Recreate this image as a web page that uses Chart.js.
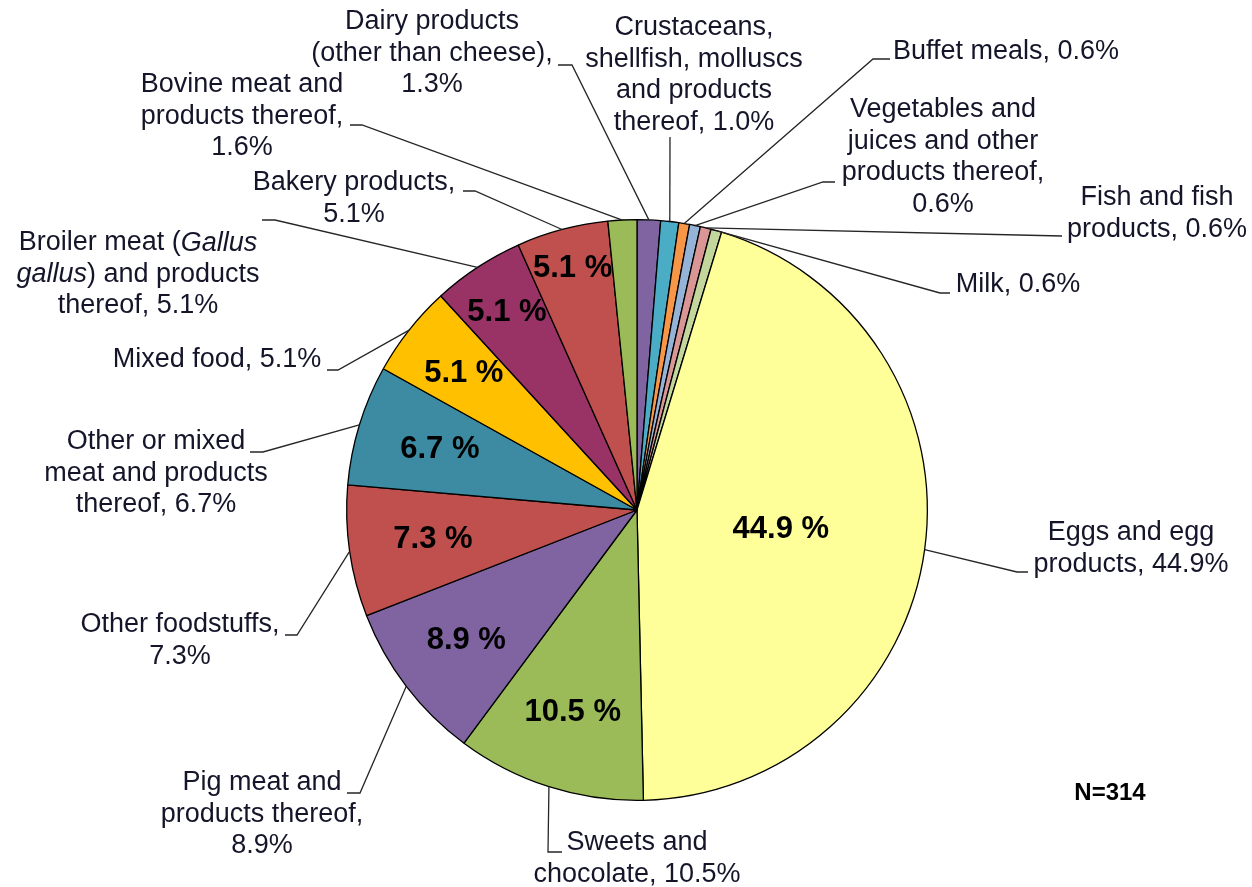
<!DOCTYPE html>
<html>
<head>
<meta charset="utf-8">
<title>Foodborne outbreaks by food vehicle</title>
<script src="https://cdn.jsdelivr.net/npm/chart.js@4.4.1/dist/chart.umd.min.js"></script>
<style>
  html,body{margin:0;padding:0;background:#fff;}
  #wrap{width:1252px;height:887px;}
</style>
</head>
<body>
<div id="wrap"><canvas id="pie" width="1252" height="887"></canvas></div>
<script>
// food vehicles, clockwise from 12 o'clock
const categories=[
    "Dairy products (other than cheese)",
    "Crustaceans, shellfish, molluscs and products thereof",
    "Buffet meals",
    "Vegetables and juices and other products thereof",
    "Fish and fish products",
    "Milk",
    "Eggs and egg products",
    "Sweets and chocolate",
    "Pig meat and products thereof",
    "Other foodstuffs",
    "Other or mixed meat and products thereof",
    "Mixed food",
    "Broiler meat (Gallus gallus) and products thereof",
    "Bakery products",
    "Bovine meat and products thereof"
];
const shares=[1.3,1.0,0.6,0.6,0.6,0.6,44.9,10.5,8.9,7.3,6.7,5.1,5.1,5.1,1.6];
const sampleSize=314;

const sliceColours=["#8064A2","#4BACC6","#F79646","#95B3D7","#D99694","#C3D69B","#FFFF99",
    "#9BBB59","#8064A2","#C0504D","#3C8BA2","#FFC000","#993366","#C0504D","#9BBB59"];

// outer label wording ({v} = share, *..* = italic), anchor of the first line, leader points
const outerLabels=[
    {text:"Dairy products\n(other than cheese),\n{v}%",x:432,y:22,leader:[[558,65],[572,65]]},
    {text:"Crustaceans,\nshellfish, molluscs\nand products\nthereof, {v}%",x:694,y:28,leader:[[670,137]]},
    {text:"Buffet meals, {v}%",x:893,y:52,align:"left",leader:[[890,59],[873,59]]},
    {text:"Vegetables and\njuices and other\nproducts thereof,\n{v}%",x:943,y:110,leader:[[835,182],[823,182]]},
    {text:"Fish and fish\nproducts, {v}%",x:1157,y:198,leader:[[1062,236]]},
    {text:"Milk, {v}%",x:1018,y:285,leader:[[950,293],[940,293]]},
    {text:"Eggs and egg\nproducts, {v}%",x:1131,y:533,leader:[[1028,572],[1017,572]]},
    {text:"Sweets and\nchocolate, {v}%",x:637,y:843,leader:[[562,852],[548,852]]},
    {text:"Pig meat and\nproducts thereof,\n{v}%",x:262,y:783,leader:[[347,793],[360,793]]},
    {text:"Other foodstuffs,\n{v}%",x:180,y:625,leader:[[285,635],[297,635]]},
    {text:"Other or mixed\nmeat and products\nthereof, {v}%",x:156,y:442,leader:[[250,452],[263,452]]},
    {text:"Mixed food, {v}%",x:217,y:360,leader:[[327,370],[338,370]]},
    {text:"Broiler meat (*Gallus*\n*gallus*) and products\nthereof, {v}%",x:138,y:243,leader:[[262,220],[275,220]]},
    {text:"Bakery products,\n{v}%",x:354,y:183,leader:[[463,191],[475,191]]},
    {text:"Bovine meat and\nproducts thereof,\n{v}%",x:242,y:85,leader:[[350,125],[362,125]]}
];
// radial position (fraction of radius) of the bold value inside the bigger slices
const innerRadius=[null,null,null,null,null,null,0.5,0.73,0.74,0.71,0.71,0.76,0.815,0.86,null];

const FONT='"Liberation Sans", Arial, sans-serif';
const LINE_H=31.5;

function drawRich(ctx,line,x,y,align){
    const parts=line.split("*");
    let widths=parts.map((p,i)=>{
        ctx.font=(i%2?"italic ":"")+"27px "+FONT;
        return ctx.measureText(p).width;
    });
    const total=widths.reduce((a,b)=>a+b,0);
    let cx=align==="left"?x:x-total/2;
    parts.forEach((p,i)=>{
        ctx.font=(i%2?"italic ":"")+"27px "+FONT;
        ctx.textAlign="left";
        ctx.fillText(p,cx,y);
        cx+=widths[i];
    });
}

const pieLabels={
    id:"pieLabels",
    afterDatasetsDraw(chart){
        const ctx=chart.ctx;
        const meta=chart.getDatasetMeta(0);
        ctx.save();
        ctx.textBaseline="middle";
        meta.data.forEach((arc,i)=>{
            const p=arc.getProps(["x","y","startAngle","endAngle","outerRadius"],true);
            const mid=(p.startAngle+p.endAngle)/2;
            const v=shares[i].toFixed(1);
            // leader line from label to slice edge
            const lab=outerLabels[i];
            ctx.strokeStyle="#262626";
            ctx.lineWidth=1.3;
            ctx.beginPath();
            lab.leader.forEach((pt,k)=>k?ctx.lineTo(pt[0],pt[1]):ctx.moveTo(pt[0],pt[1]));
            ctx.lineTo(p.x+Math.cos(mid)*p.outerRadius,p.y+Math.sin(mid)*p.outerRadius);
            ctx.stroke();
            // outer text
            ctx.fillStyle="#15152a";
            lab.text.replace("{v}",v).split("\n").forEach((line,k)=>{
                drawRich(ctx,line,lab.x,lab.y+k*LINE_H,lab.align);
            });
            // bold value inside slice
            if(innerRadius[i]){
                const r=p.outerRadius*innerRadius[i];
                ctx.font="bold 31px "+FONT;
                ctx.textAlign="center";
                ctx.fillStyle="#000";
                ctx.fillText(v+" %",p.x+Math.cos(mid)*r,p.y+Math.sin(mid)*r);
            }
        });
        ctx.font="bold 24px "+FONT;
        ctx.textAlign="center";
        ctx.fillStyle="#000";
        ctx.fillText("N="+sampleSize,1110,793);
        ctx.restore();
    }
};

new Chart(document.getElementById("pie").getContext("2d"),{
    type:"pie",
    data:{labels:categories,datasets:[{data:shares,backgroundColor:sliceColours,borderColor:"#000",borderWidth:1.3}]},
    options:{
        responsive:false,
        animation:false,
        devicePixelRatio:1,
        rotation:0,
        layout:{padding:{left:346,right:324,top:219,bottom:86}},
        plugins:{legend:{display:false},tooltip:{enabled:false}}
    },
    plugins:[pieLabels]
});
</script>
</body>
</html>
